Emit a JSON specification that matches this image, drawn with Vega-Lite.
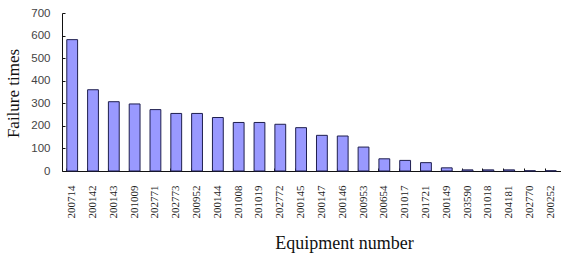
{
  "$schema": "https://vega.github.io/schema/vega-lite/v6.json",
  "width": 499,
  "height": 158,
  "autosize": {"type": "none"},
  "padding": {"left": 62, "top": 13, "right": 0, "bottom": 86},
  "background": "white",
  "data": {"values": [
    {"equipment": "200714", "failures": 582},
    {"equipment": "200142", "failures": 360},
    {"equipment": "200143", "failures": 307},
    {"equipment": "201009", "failures": 297},
    {"equipment": "202771", "failures": 272},
    {"equipment": "202773", "failures": 255},
    {"equipment": "200952", "failures": 255},
    {"equipment": "200144", "failures": 237},
    {"equipment": "201008", "failures": 215},
    {"equipment": "201019", "failures": 215},
    {"equipment": "202772", "failures": 207},
    {"equipment": "200145", "failures": 192},
    {"equipment": "200147", "failures": 158},
    {"equipment": "200146", "failures": 155},
    {"equipment": "200953", "failures": 106},
    {"equipment": "200654", "failures": 54},
    {"equipment": "201017", "failures": 47},
    {"equipment": "201721", "failures": 37},
    {"equipment": "200149", "failures": 14},
    {"equipment": "203590", "failures": 5},
    {"equipment": "201018", "failures": 5},
    {"equipment": "204181", "failures": 5},
    {"equipment": "202770", "failures": 1},
    {"equipment": "200252", "failures": 1}
  ]},
  "config": {"view": {"stroke": null}},
  "layer": [
    {
      "mark": {"type": "bar", "fill": "#9999ff", "stroke": "#1f1f4f", "strokeWidth": 1},
      "encoding": {
        "x": {
          "field": "equipment", "type": "nominal", "sort": null,
          "scale": {"paddingInner": 0.48, "paddingOuter": 0.23},
          "axis": {
            "title": "Equipment number",
            "titleFont": "Liberation Serif", "titleFontSize": 18, "titleFontWeight": "normal",
            "titleColor": "#111", "titleX": 282, "titleY": 77, "titleBaseline": "alphabetic",
            "labelAngle": 270, "labelFont": "Liberation Serif", "labelFontSize": 11,
            "labelColor": "#222", "labelPadding": 14,
            "ticks": false, "domainColor": "#111", "domainWidth": 1
          }
        },
        "y": {
          "field": "failures", "type": "quantitative",
          "scale": {"domain": [0, 700], "nice": false},
          "axis": {
            "title": "Failure times",
            "titleFont": "Liberation Serif", "titleFontSize": 17, "titleFontWeight": "normal",
            "titleColor": "#111", "titleX": -40, "titleY": 80,
            "values": [0, 100, 200, 300, 400, 500, 600, 700], "labelOverlap": false,
            "grid": false, "labelFont": "Liberation Sans", "labelFontSize": 11.5,
            "labelColor": "#444", "ticks": false,
            "labelPadding": 12, "domainColor": "#111"
          }
        }
      }
    },
    {
      "mark": {"type": "bar", "opacity": 0},
      "encoding": {
        "x": {
          "field": "equipment", "type": "nominal", "sort": null,
          "axis": {
            "orient": "bottom", "title": null, "labels": false, "domain": false,
            "ticks": true, "tickSize": 3, "offset": -3, "tickColor": "#111", "bandPosition": 0
          }
        },
        "y": {
          "field": "failures", "type": "quantitative",
          "axis": {
            "orient": "left", "title": null, "labels": false, "domain": false, "grid": false,
            "values": [0, 100, 200, 300, 400, 500, 600, 700],
            "ticks": true, "tickSize": 3, "offset": -3, "tickColor": "#111"
          }
        }
      }
    }
  ],
  "resolve": {"axis": {"x": "independent", "y": "independent"}}
}
